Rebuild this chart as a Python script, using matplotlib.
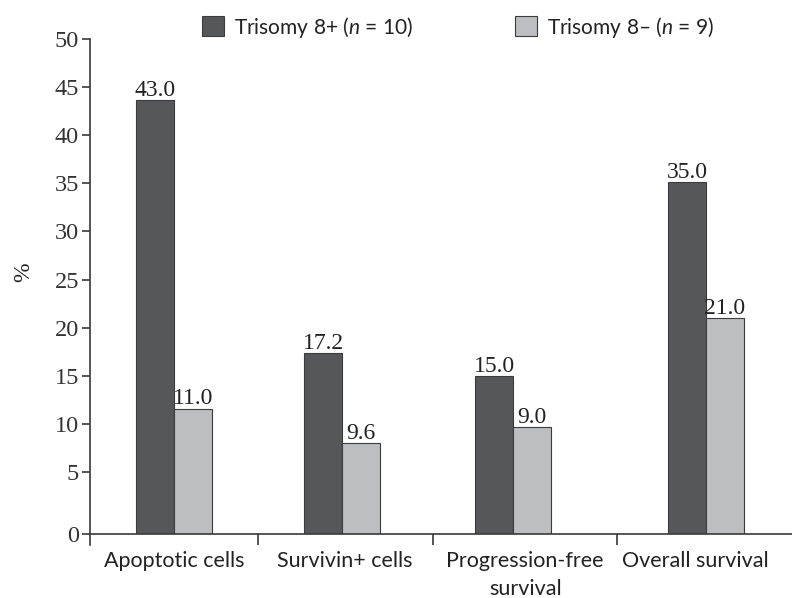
import matplotlib as mpl
mpl.use('Agg')
import matplotlib.pyplot as plt
from matplotlib.lines import Line2D
import numpy as np

# data
categories = ["Apoptotic cells", "Survivin+ cells", "Progression-free\nsurvival", "Overall survival"]
plus_heights = [43.7, 17.4, 15.0, 35.1]     # bar tops as drawn
minus_heights = [11.6, 8.0, 9.7, 21.0]
plus_labels = ["43.0", "17.2", "15.0", "35.0"]  # printed values
minus_labels = ["11.0", "9.6", "9.0", "21.0"]
yticks = [5, 10, 15, 20, 25, 30, 35, 40, 45, 50]
series_names = ["Trisomy 8+ ($n$ = 10)", "Trisomy 8\u2013 ($n$ = 9)"]

dark = "#56575a"
light = "#bdbec2"
edge = "#3c3c3c"
axis_col = "#3a3a3a"

serif = "Liberation Serif"
sans = "Lato"
plt.rcParams['mathtext.fontset'] = 'custom'
plt.rcParams['mathtext.it'] = 'Lato:italic'
plt.rcParams['mathtext.rm'] = 'Lato'

fig = plt.figure(figsize=(7.92, 5.98), dpi=100)
ax = fig.add_axes([90 / 792, 64 / 598, 702 / 792, 495 / 598])

# layout: group centres / dividers in category units
group_x = np.array([0.0, 0.977, 1.97, 3.09])
label_x = [0.0, 0.99, 2.04, 3.03]
dividers = [0.488, 1.506, 2.576]
w = 0.22
base = -1.44

b1 = ax.bar(group_x - w / 2, np.array(plus_heights) - base, w, bottom=base,
            color=dark, edgecolor=edge, linewidth=0.8, label=series_names[0])
b2 = ax.bar(group_x + w / 2, np.array(minus_heights) - base, w, bottom=base,
            color=light, edgecolor=edge, linewidth=0.8, label=series_names[1])

for xs, hs, labs in [(group_x - w / 2, plus_heights, plus_labels),
                     (group_x + w / 2, minus_heights, minus_labels)]:
  for x, h, s in zip(xs, hs, labs):
    ax.text(x, h - 0.1, s, ha='center', va='bottom', fontsize=17,
            family=serif, color="#222222")

ax.set_xlim(-0.488, 3.59)
ax.set_ylim(base, 50)

ax.set_yticks([base] + yticks)
ax.set_yticklabels(["0"] + [str(t) for t in yticks], family=serif, fontsize=17.5, color="#333333")
ax.tick_params(axis='y', direction='out', length=6, width=1.2, color=axis_col, pad=2)

ax.set_xticks(label_x)
ax.set_xticklabels(categories, family=sans, fontsize=15.5, color="#222222", linespacing=1.55)
ax.tick_params(axis='x', which='major', length=0, pad=12)
ax.set_xticks(dividers, minor=True)
ax.tick_params(axis='x', which='minor', direction='out', length=8, width=1.2, color=axis_col)

for s in ['top', 'right']:
  ax.spines[s].set_visible(False)
for s in ['left', 'bottom']:
  ax.spines[s].set_color(axis_col)
  ax.spines[s].set_linewidth(1.2)

# left axis runs a little below the baseline
ax.add_line(Line2D([0, 0], [0, -0.022], transform=ax.transAxes, color=axis_col,
                   linewidth=1.2, clip_on=False))

fig.text(24 / 792, 1 - 272 / 598, "%", rotation=90, ha='center', va='center',
         family=serif, fontsize=17, color="#222222")

fig.legend(handles=[b1, b2], loc='center', bbox_to_anchor=(458 / 792, 1 - 27 / 598),
           ncol=2, frameon=False, prop={'family': sans, 'size': 15},
           handlelength=1.05, handleheight=1.1, handletextpad=0.5, columnspacing=4.9,
           labelcolor="#222222")

fig.savefig("out.png", dpi=100)
